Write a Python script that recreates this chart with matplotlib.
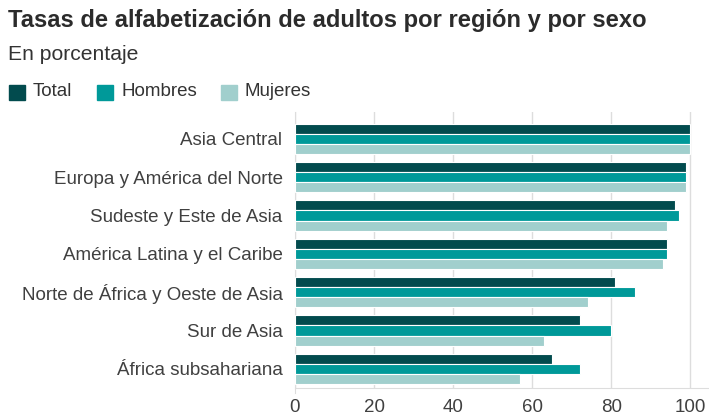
import numpy as np
import matplotlib.pyplot as plt
from matplotlib.patches import Rectangle

plt.rcParams['font.family'] = ['Liberation Sans', 'DejaVu Sans']

regiones = ["Asia Central", "Europa y América del Norte", "Sudeste y Este de Asia",
            "América Latina y el Caribe", "Norte de África y Oeste de Asia",
            "Sur de Asia", "África subsahariana"]
total = [100, 99, 96, 94, 81, 72, 65]
hombres = [100, 99, 97, 94, 86, 80, 72]
mujeres = [100, 99, 94, 93, 74, 63, 57]
series = ["Total", "Hombres", "Mujeres"]
colores = ["#024b4e", "#009999", "#a1cfcd"]
xticks = [0, 20, 40, 60, 80, 100]

W, H = 709, 415
fig = plt.figure(figsize=(W / 100, H / 100), dpi=100)
ax = fig.add_axes([295 / W, 1 - 388 / H, 1 - 295 / W, (388 - 112) / H])

y = np.arange(len(regiones))
slot = 0.262
for i, vals in enumerate([total, hombres, mujeres]):
    ax.barh(y + (i - 1) * slot, vals, height=slot, color=colores[i],
            edgecolor="white", linewidth=0.8, zorder=3)

ax.set_xlim(0, 104.7)
ax.set_ylim(len(regiones) - 0.5, -0.7)
ax.set_yticks(y)
ax.set_yticklabels(regiones, fontsize=13.5, color="#404040")
ax.set_xticks(xticks)
ax.set_xticklabels([str(v) for v in xticks], fontsize=13.5, color="#404040")
ax.tick_params(axis="y", length=0, pad=9)
ax.tick_params(axis="x", length=0, pad=8)
ax.grid(axis="x", color="#dddddd", linewidth=1, zorder=0)
for s in ["top", "right"]:
    ax.spines[s].set_visible(False)
ax.spines["bottom"].set_color("#dddddd")
ax.spines["left"].set_color("#dddddd")
# left spine runs a little below the axis, like a tick at 0
ax.spines["left"].set_bounds(-0.7, len(regiones) - 0.5 + 0.14)

fig.text(8 / W, 1 - 21 / H, "Tasas de alfabetización de adultos por región y por sexo",
         fontsize=17.1, fontweight="bold", color="#2b2b2b", va="center", ha="left")
fig.text(8 / W, 1 - 54 / H, "En porcentaje", fontsize=15.2, color="#333333",
         va="center", ha="left")

leg_x = [9, 97, 221]
for i, name in enumerate(series):
    fig.patches.append(Rectangle((leg_x[i] / W, 1 - 100 / H), 16 / W, 15 / H,
                                 transform=fig.transFigure, color=colores[i]))
    fig.text((leg_x[i] + 24) / W, 1 - 92 / H, name, fontsize=13.5, color="#333333",
             va="center", ha="left")

fig.savefig("out.png", dpi=100)
